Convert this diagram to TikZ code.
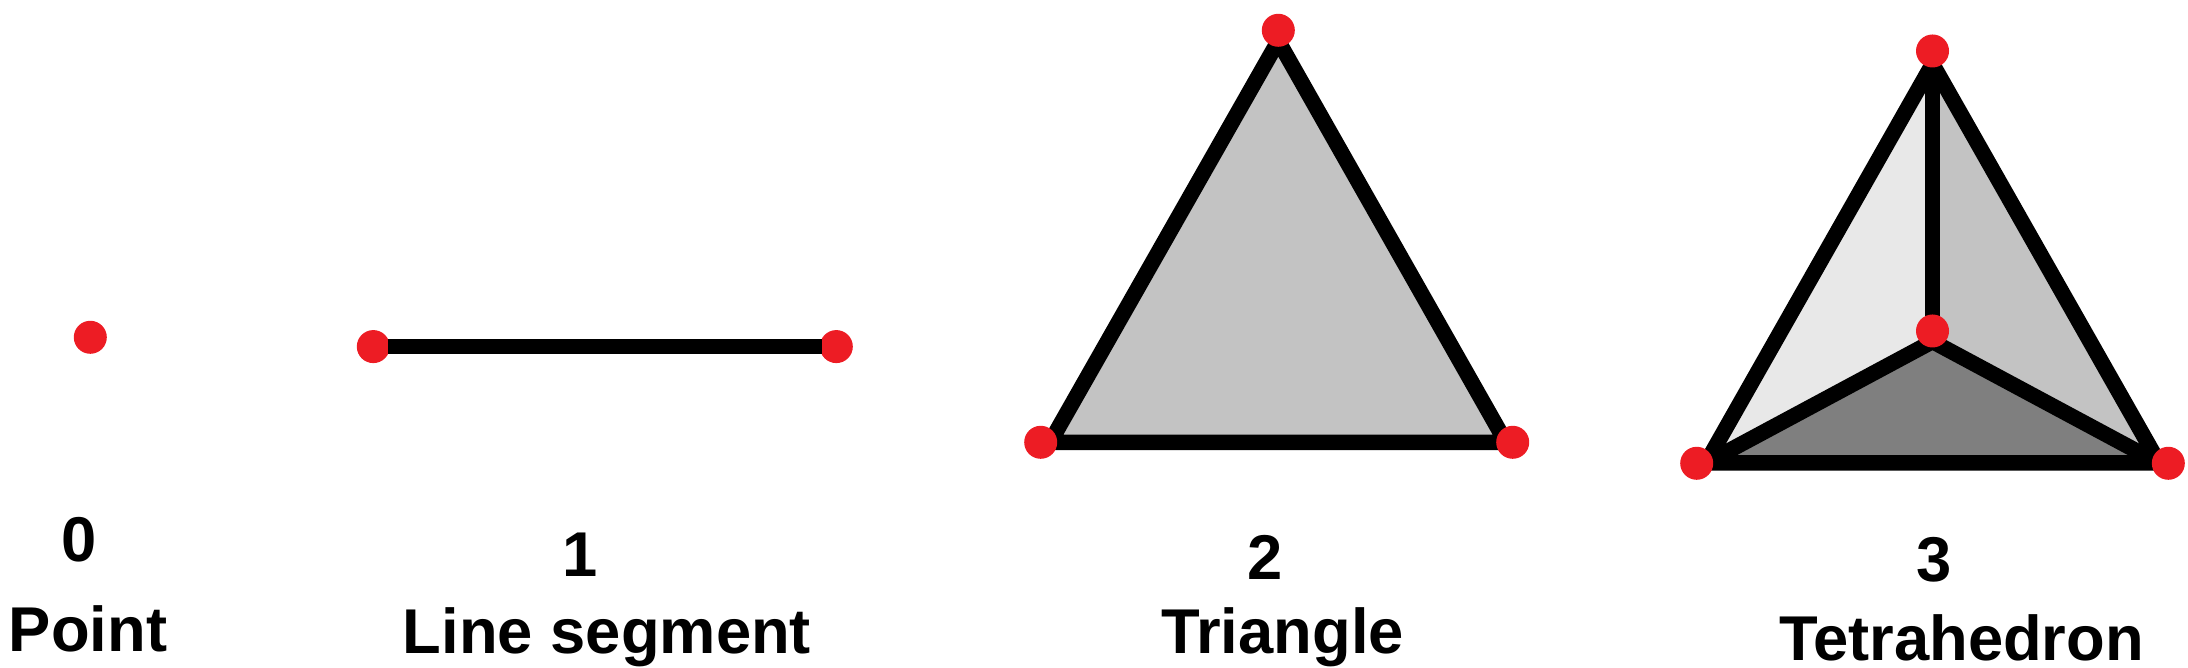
\documentclass[tikz,border=0pt]{standalone}
\usepackage{fontspec}
\setmainfont{Liberation Sans}
\definecolor{vertexred}{RGB}{237, 28, 36}
\definecolor{facelight}{RGB}{232, 232, 232}
\definecolor{facemid}{RGB}{195, 195, 195}
\definecolor{facedark}{RGB}{127, 127, 127}
\begin{document}
\begin{tikzpicture}[
  x=0.01cm, y=-0.01cm,
  vertex/.style={circle, fill=vertexred, minimum size=0.33cm, inner sep=0pt, outer sep=0pt},
  edge/.style={line width=0.155cm, black},
  label/.style={anchor=base, inner sep=0pt, font=\fontsize{18pt}{20pt}\selectfont\bfseries},
]
\useasboundingbox (0, 0) rectangle (2188, 668);

% Point
\node[vertex] (p0) at (90.3, 337.3) {};
\node[label] (dim0) at (79, 561.7) {0};
\node[label] (point) at (88, 651.7) {Point};

% Line segment
\node[vertex] (s0) at (373.3, 346.6) {};
\node[vertex] (s1) at (836.3, 346.6) {};
\draw[edge, shorten <=-0.6pt, shorten >=-0.6pt] (s0) -- (s1);
\node[label] (dim1) at (580, 576.7) {1};
\node[label] (segment) at (607, 654) {Line segment};

% Triangle
\coordinate (ta) at (1278.3, 41);
\coordinate (tb) at (1050, 442.5);
\coordinate (tc) at (1506, 442.5);
\draw[edge, fill=facemid] (ta) -- (tb) -- (tc) -- cycle;
\node[vertex] (t0) at (1278.3, 30.3) {};
\node[vertex] (t1) at (1040.7, 442.3) {};
\node[vertex] (t2) at (1512.7, 442.3) {};
\node[label] (dim2) at (1265, 580) {2};
\node[label] (triangle) at (1282.5, 653.5) {Triangle};

% Tetrahedron
\coordinate (ha) at (1932.5, 64);
\coordinate (hb) at (1706, 463);
\coordinate (hc) at (2159, 463);
\coordinate (hd) at (1932.5, 341.5);
\fill[facelight] (ha) -- (hb) -- (hd) -- cycle;
\fill[facemid] (ha) -- (hc) -- (hd) -- cycle;
\fill[facedark] (hb) -- (hc) -- (hd) -- cycle;
\draw[edge] (ha) -- (hb) -- (hc) -- cycle;
\draw[edge] (ha) -- (hd);
\draw[edge] (hb) -- (hd) -- (hc);
\node[vertex] (h0) at (1932.5, 51) {};
\node[vertex] (h1) at (1696.7, 463.3) {};
\node[vertex] (h2) at (2168.3, 463.3) {};
\node[vertex] (h3) at (1932.5, 331) {};
\node[label] (dim3) at (1934, 582) {3};
\node[label] (tetrahedron) at (1961.6, 661) {Tetrahedron};
\end{tikzpicture}
\end{document}
